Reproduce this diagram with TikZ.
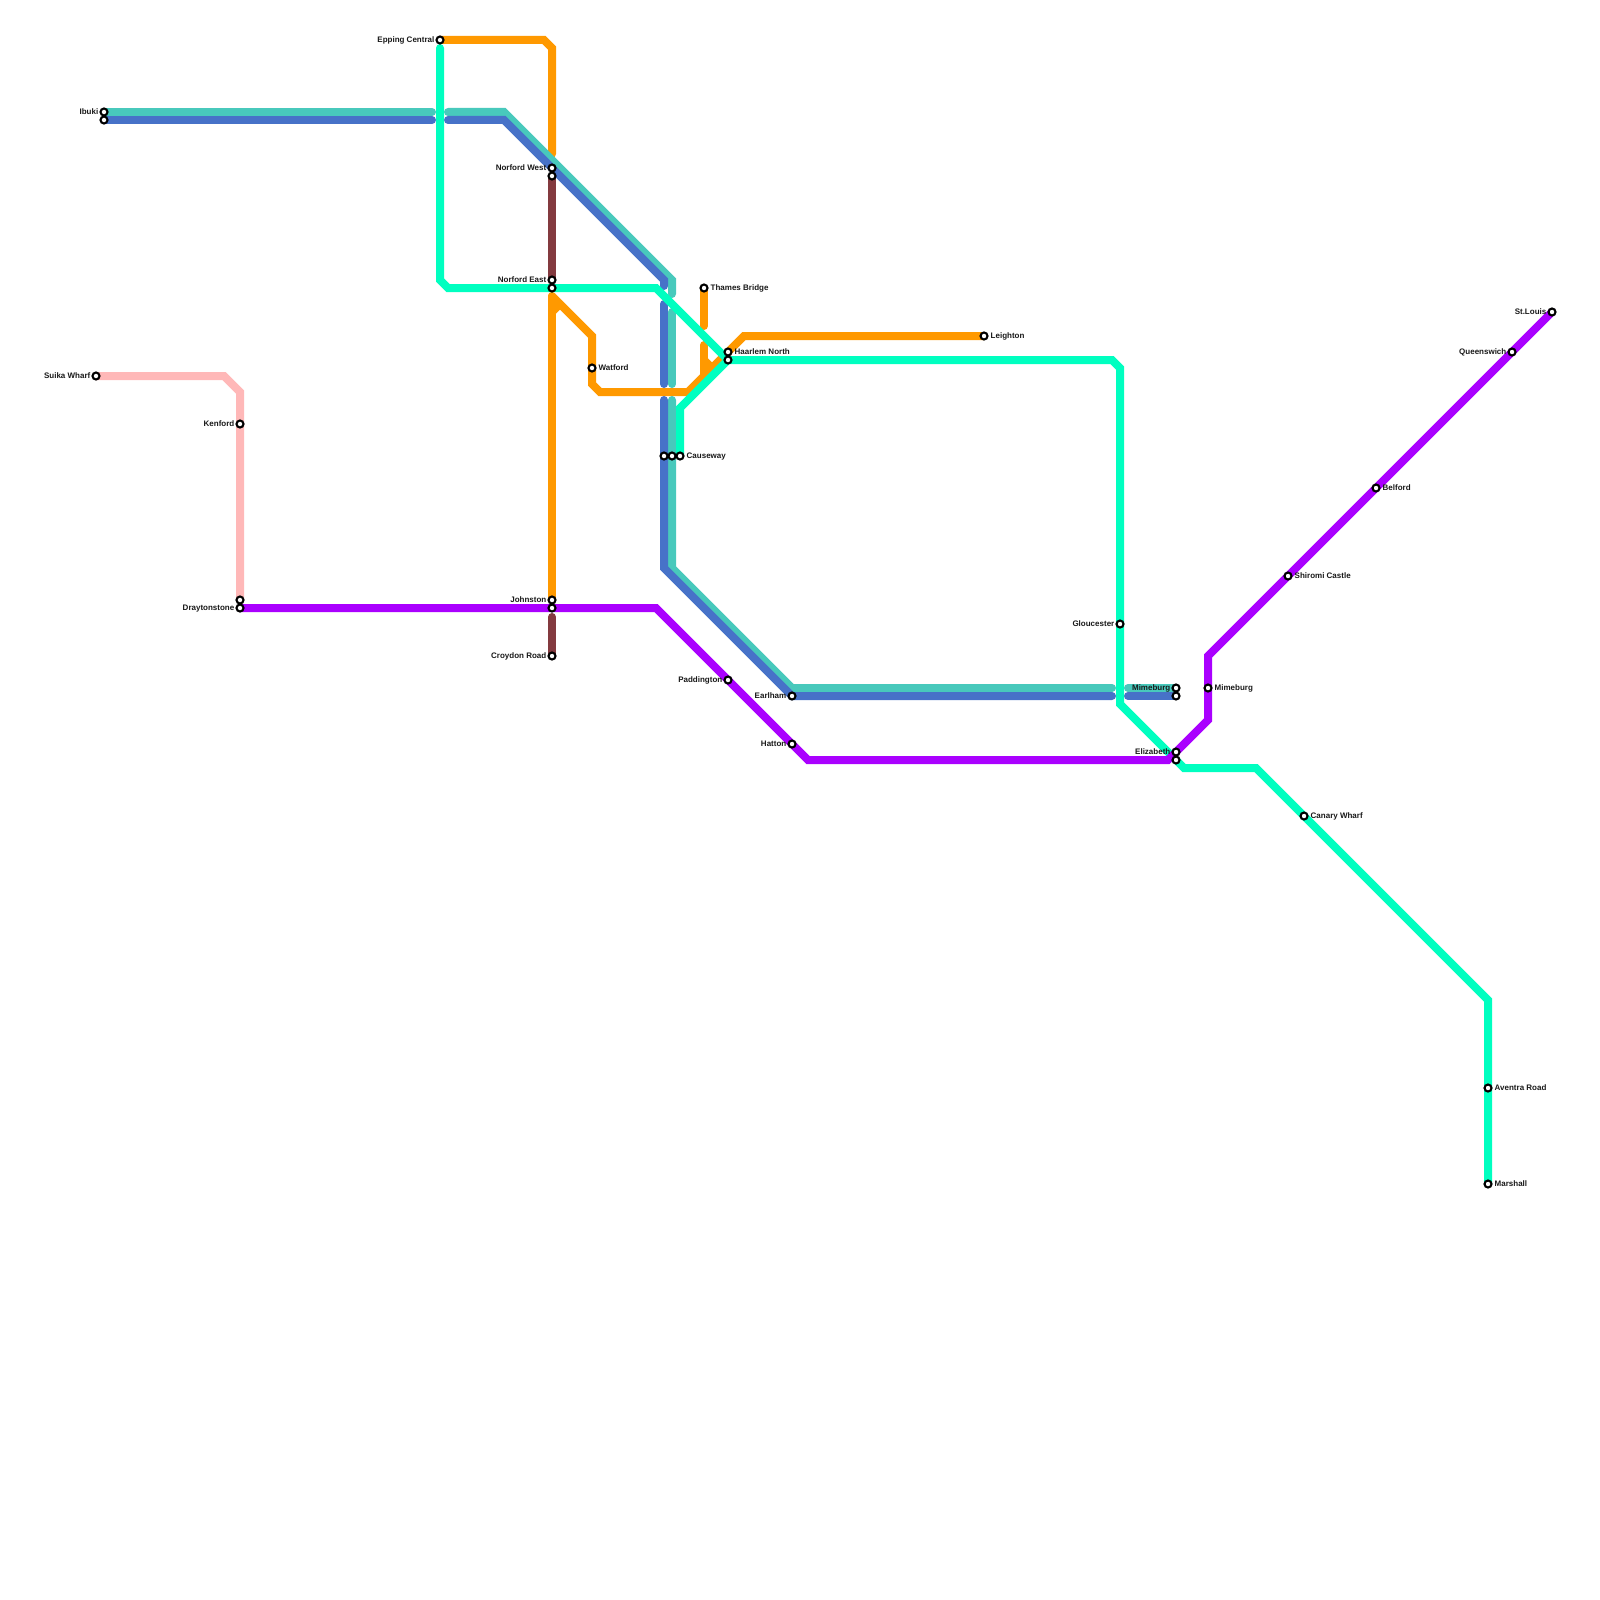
\documentclass[tikz,border=0pt]{standalone}
\usepackage{fontspec}
\setmainfont{Liberation Sans}
\usetikzlibrary{backgrounds}
\definecolor{cteal}{HTML}{48C9BC}
\definecolor{cblue}{HTML}{4772C8}
\definecolor{cbrown}{HTML}{833A3F}
\definecolor{corange}{HTML}{FF9900}
\definecolor{cpurple}{HTML}{AA00FF}
\definecolor{cgreen}{HTML}{00FFC0}
\definecolor{cpink}{HTML}{FFB8B8}
\tikzset{
  stn/.style={circle,draw=black,fill=white,line width=2.1pt,minimum size=7pt,inner sep=0pt},
  lbl/.style={font=\bfseries\fontsize{8}{8}\selectfont,text=black!90,inner sep=0pt},
  lft/.style={lbl,anchor=mid east},
  rgt/.style={lbl,anchor=mid west},
  railline/.style={line width=8pt,line cap=round,line join=miter}
}
\begin{document}
\begin{tikzpicture}[x=1pt,y=-1pt]
\useasboundingbox (0,0) rectangle (1600,1600);
% stations
\foreach \n/\x/\y in {ibukiA/104/112,ibukiB/104/120,suika/96/376,kenford/240/424,drayA/240/600,drayB/240/608,
 epping/440/40,nwestA/552/168,nwestB/552/176,neastA/552/280,neastB/552/288,johnA/552/600,johnB/552/608,croydon/552/656,
 watford/592/368,causeA/664/456,causeB/672/456,causeC/680/456,thames/704/288,haarA/728/352,haarB/728/360,
 padd/728/680,earlA/792/696,hatton/792/744,leighton/984/336,glouc/1120/624,mimeA/1176/688,mimeB/1176/696,
 elizA/1176/752,elizB/1176/760,mimeC/1208/688,shiromi/1288/576,canary/1304/816,belford/1376/488,
 queens/1512/352,stlouis/1552/312,aventra/1488/1088,marshall/1488/1184}
  {\node[stn] (\n) at (\x,\y) {};}
% labels
\node[lft] (tIbuki) at (98.5,112) {Ibuki};
\node[lft] (tSuika) at (90.5,376) {Suika Wharf};
\node[lft] (tKenford) at (234.5,424) {Kenford};
\node[lft] (tDray) at (234.5,608) {Draytonstone};
\node[lft] (tEpping) at (434.5,40) {Epping Central};
\node[lft] (tNW) at (546.5,168) {Norford West};
\node[lft] (tNE) at (546.5,280) {Norford East};
\node[lft] (tJohn) at (546.5,600) {Johnston};
\node[lft] (tCroy) at (546.5,656) {Croydon Road};
\node[lft] (tPadd) at (722.5,680) {Paddington};
\node[lft] (tEarl) at (786.5,696) {Earlham};
\node[lft] (tHatton) at (786.5,744) {Hatton};
\node[lft] (tGlouc) at (1114.5,624) {Gloucester};
\node[lft] (tMimeL) at (1170.5,688) {Mimeburg};
\node[lft] (tEliz) at (1170.5,752) {Elizabeth};
\node[lft] (tQueens) at (1506.5,352) {Queenswich};
\node[lft] (tStL) at (1546.5,312) {St.Louis};
\node[rgt] (tWat) at (598.5,368) {Watford};
\node[rgt] (tCause) at (686.5,456) {Causeway};
\node[rgt] (tThames) at (710.5,288) {Thames Bridge};
\node[rgt] (tHaar) at (734.5,352) {Haarlem North};
\node[rgt] (tLeigh) at (990.5,336) {Leighton};
\node[rgt] (tMimeR) at (1214.5,688) {Mimeburg};
\node[rgt] (tShir) at (1294.5,576) {Shiromi Castle};
\node[rgt] (tCan) at (1310.5,816) {Canary Wharf};
\node[rgt] (tBel) at (1382.5,488) {Belford};
\node[rgt] (tAven) at (1494.5,1088) {Aventra Road};
\node[rgt] (tMar) at (1494.5,1184) {Marshall};
\begin{scope}[on background layer]
\fill[white] (0,0) rectangle (1600,1600);
% pink
\draw[railline,cpink] (suika.center) -- (224,376) -- (240,392) -- (drayA.center);
% orange
\draw[railline,corange] (epping.center) -- (544,40) -- (552,48) -- (552,154);
\draw[railline,corange] (johnA.center) -- (552,296);
\draw[railline,corange,line cap=butt] (552,312) -- (560,304);
\draw[railline,corange] (552,296) -- (592,336) -- (watford.center) -- (592,384) -- (600,392) -- (688,392) -- (744,336) -- (leighton.center);
\draw[railline,corange] (thames.center) -- (704,326);
\draw[railline,corange,line cap=butt] (704,345) -- (704,376);
\draw[railline,corange] (704,345) -- (704,346);
\draw[railline,corange,line cap=butt] (704,360) -- (712,368);
% brown
\draw[railline,cbrown] (nwestB.center) -- (neastA.center);
\draw[railline,cbrown] (552,617) -- (croydon.center);
% teal
\draw[railline,cteal] (ibukiA.center) -- (432,112);
\draw[railline,cteal] (448,112) -- (504,112) -- (672,280) -- (672,294);
\draw[railline,cteal] (672,312) -- (672,384);
\draw[railline,cteal] (672,400) -- (causeB.center) -- (672,568) -- (792,688) -- (1112,688);
\draw[railline,cteal] (1128,688) -- (mimeA.center);
% blue
\draw[railline,cblue] (ibukiB.center) -- (432,120);
\draw[railline,cblue] (448,120) -- (504,120) -- (664,280) -- (664,286);
\draw[railline,cblue] (664,304) -- (664,384);
\draw[railline,cblue] (664,400) -- (causeA.center) -- (664,568) -- (earlA.center) -- (1112,696);
\draw[railline,cblue] (1128,696) -- (mimeB.center);
% green
\draw[railline,cgreen] (440,48) -- (440,280) -- (448,288) -- (neastB.center) -- (656,288) -- (haarB.center) -- (1112,360) -- (1120,368) -- (glouc.center) -- (1120,704) -- (elizB.center) -- (1184,768) -- (1256,768) -- (canary.center) -- (1488,1000) -- (aventra.center) -- (marshall.center);
\draw[railline,cgreen] (causeC.center) -- (680,408) -- (haarB.center);
% purple
\draw[railline,cpurple] (drayB.center) -- (johnB.center) -- (656,608) -- (padd.center) -- (hatton.center) -- (808,760) -- (1168,760) -- (elizA.center) -- (1208,720) -- (mimeC.center) -- (1208,656) -- (shiromi.center) -- (belford.center) -- (queens.center) -- (stlouis.center);
\end{scope}
\end{tikzpicture}
\end{document}
